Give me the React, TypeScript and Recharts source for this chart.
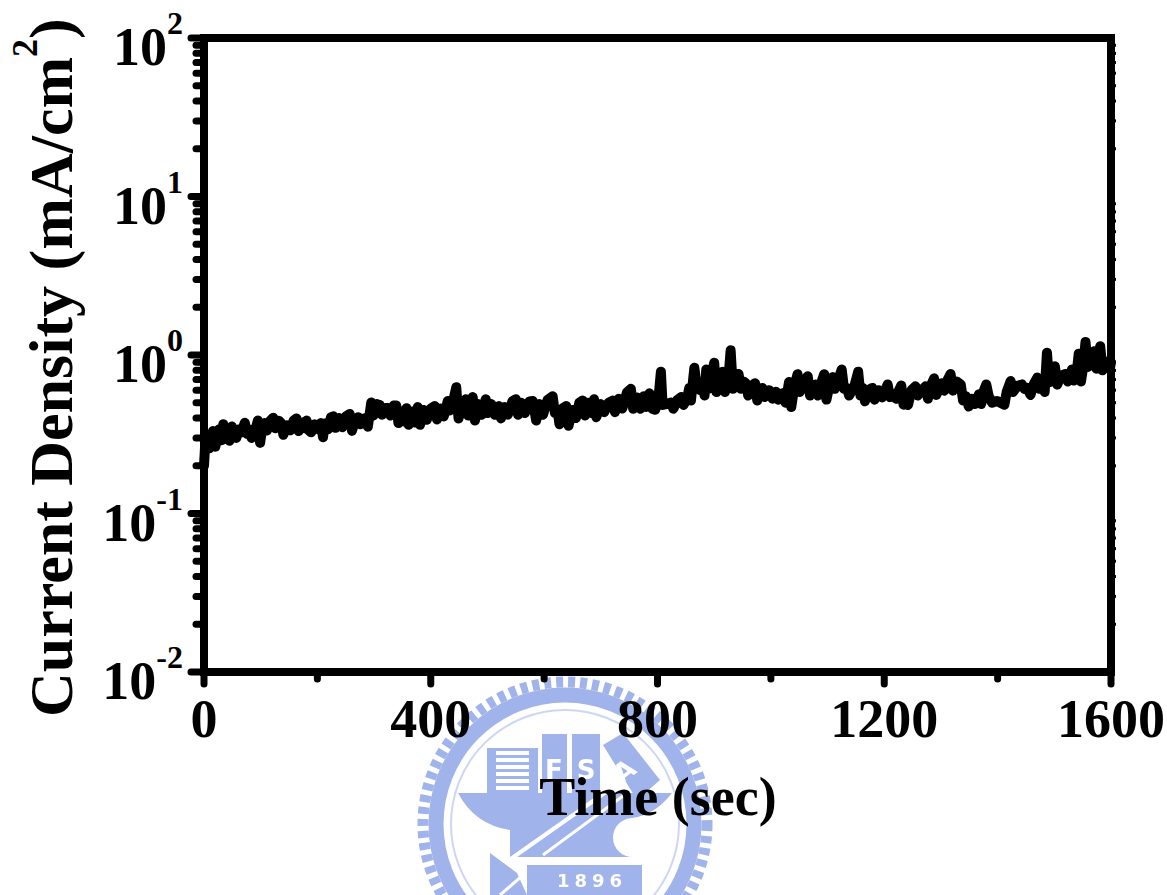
import { LineChart, Line, XAxis, YAxis } from 'recharts'

// [time in sec, current density in mA/cm2]
const readings0to400 = [
  [0, 0.2], [2, 0.27], [6, 0.315], [9, 0.258], [16, 0.331], [20, 0.264], [27, 0.34], [31, 0.29], [34, 0.366], [38, 0.3],
  [42, 0.34], [45, 0.288], [49, 0.354], [53, 0.31], [57, 0.3], [62, 0.34], [66, 0.325], [72, 0.374], [76, 0.318],
  [80, 0.339], [84, 0.3], [90, 0.33], [95, 0.386], [99, 0.279], [103, 0.35], [107, 0.372], [111, 0.334], [117, 0.385],
  [122, 0.402], [126, 0.345], [132, 0.385], [136, 0.372], [140, 0.314], [146, 0.36], [152, 0.335], [158, 0.385],
  [163, 0.398], [167, 0.331], [173, 0.375], [177, 0.345], [181, 0.386], [185, 0.334], [189, 0.325], [195, 0.365],
  [201, 0.34], [206, 0.372], [210, 0.303], [213, 0.37], [219, 0.34], [224, 0.405], [228, 0.411], [232, 0.347],
  [238, 0.4], [244, 0.35], [250, 0.41], [257, 0.425], [261, 0.332], [267, 0.39], [272, 0.405], [276, 0.366], [281, 0.395],
  [286, 0.402], [289, 0.353], [292, 0.42], [295, 0.501], [299, 0.415], [305, 0.49], [310, 0.483], [314, 0.42], [320, 0.463],
  [325, 0.463], [329, 0.415], [335, 0.48], [339, 0.481], [343, 0.372], [349, 0.44], [353, 0.38], [357, 0.461], [361, 0.363],
  [367, 0.44], [372, 0.375], [377, 0.469], [381, 0.363], [387, 0.45], [393, 0.39],
]
const readings400to800 = [
  [400, 0.46], [407, 0.476], [411, 0.392], [417, 0.46], [423, 0.41], [430, 0.513], [434, 0.447], [440, 0.52], [445, 0.626],
  [449, 0.398], [455, 0.5], [462, 0.526], [466, 0.415], [470, 0.5], [474, 0.543], [478, 0.386], [484, 0.49], [490, 0.42],
  [497, 0.526], [501, 0.43], [507, 0.49], [513, 0.42], [520, 0.476], [524, 0.398], [530, 0.47], [536, 0.42], [544, 0.51],
  [550, 0.526], [554, 0.42], [560, 0.5], [566, 0.43], [574, 0.51], [580, 0.513], [586, 0.386], [592, 0.49], [598, 0.42],
  [606, 0.52], [615, 0.55], [619, 0.43], [624, 0.44], [627, 0.366], [632, 0.46], [639, 0.476], [643, 0.358], [650, 0.45],
  [656, 0.4], [662, 0.5], [668, 0.516], [672, 0.415], [678, 0.5], [684, 0.43], [688, 0.526], [692, 0.405], [700, 0.49],
  [706, 0.436], [714, 0.5], [721, 0.516], [725, 0.436], [732, 0.53], [738, 0.46], [746, 0.58], [753, 0.612], [757, 0.458],
  [764, 0.54], [770, 0.458], [776, 0.55], [780, 0.47], [786, 0.573], [791, 0.458], [796, 0.451],
]
const readings800to1200 = [
  [802, 0.55], [806, 0.785], [809, 0.484], [815, 0.49], [824, 0.501], [828, 0.458], [835, 0.52], [842, 0.543], [846, 0.484],
  [852, 0.53], [856, 0.62], [859, 0.516], [865, 0.83], [869, 0.643], [875, 0.6], [880, 0.652], [883, 0.555], [886, 0.81],
  [890, 0.612], [895, 0.75], [900, 0.893], [904, 0.584], [910, 0.72], [915, 0.785], [919, 0.584], [925, 0.7], [929, 1.07],
  [933, 0.612], [938, 0.72], [943, 0.76], [947, 0.612], [952, 0.68], [956, 0.664], [960, 0.555], [966, 0.64], [972, 0.664],
  [976, 0.516], [981, 0.6], [985, 0.62], [989, 0.543], [997, 0.6], [1003, 0.53], [1009, 0.586], [1013, 0.523], [1021, 0.574],
  [1026, 0.5], [1032, 0.675], [1036, 0.469], [1041, 0.62], [1047, 0.757], [1051, 0.584], [1058, 0.68], [1065, 0.735],
  [1069, 0.555], [1075, 0.64], [1079, 0.652], [1083, 0.555], [1089, 0.67], [1094, 0.757], [1098, 0.523], [1104, 0.66],
  [1109, 0.725], [1113, 0.612], [1120, 0.72], [1125, 0.81], [1129, 0.612], [1134, 0.62], [1138, 0.555], [1147, 0.63],
  [1154, 0.785], [1158, 0.555], [1162, 0.62], [1166, 0.51], [1172, 0.6], [1179, 0.62], [1183, 0.523], [1190, 0.6], [1196, 0.54],
]
const readings1200to1600 = [
  [1206, 0.652], [1210, 0.543], [1217, 0.565], [1221, 0.53], [1226, 0.6], [1230, 0.642], [1234, 0.486], [1238, 0.535],
  [1242, 0.484], [1248, 0.6], [1255, 0.634], [1259, 0.555], [1266, 0.6], [1273, 0.634], [1277, 0.53], [1283, 0.65],
  [1288, 0.712], [1292, 0.56], [1297, 0.63], [1302, 0.664], [1306, 0.596], [1312, 0.7], [1317, 0.76], [1321, 0.596],
  [1328, 0.68], [1335, 0.652], [1339, 0.516], [1344, 0.55], [1349, 0.473], [1354, 0.53], [1360, 0.49], [1367, 0.565],
  [1371, 0.49], [1376, 0.6], [1380, 0.652], [1384, 0.555], [1390, 0.5], [1399, 0.513], [1405, 0.5], [1412, 0.486],
  [1416, 0.586], [1423, 0.685], [1427, 0.584], [1435, 0.64], [1443, 0.652], [1447, 0.612], [1452, 0.62], [1458, 0.56],
  [1464, 0.66], [1470, 0.72], [1474, 0.612], [1480, 0.675], [1483, 0.584], [1487, 1.035], [1491, 0.672], [1496, 0.75],
  [1501, 0.85], [1505, 0.65], [1512, 0.74], [1520, 0.76], [1524, 0.68], [1531, 0.81], [1535, 0.69], [1540, 0.8],
  [1543, 1.02], [1547, 0.68], [1551, 0.84], [1555, 1.21], [1559, 0.84], [1565, 1.0], [1570, 1.056], [1574, 0.82],
  [1578, 0.95], [1581, 1.135], [1585, 0.8], [1590, 0.9], [1596, 0.913], [1598, 0.82], [1600, 0.9],
]

const chartData = [...readings0to400, ...readings400to800, ...readings800to1200, ...readings1200to1600].map(([t, j]) => ({ t, j }))

const majorX = [0, 400, 800, 1200, 1600]
const minorX = [200, 600, 1000, 1400]
const majorY = [0.01, 0.1, 1, 10, 100]
const minorY = [
  0.02, 0.03, 0.04, 0.05, 0.06, 0.07, 0.08, 0.09, 0.2, 0.3, 0.4, 0.5, 0.6, 0.7, 0.8, 0.9, 2, 3, 4, 5, 6, 7, 8, 9, 20, 30,
  40, 50, 60, 70, 80, 90,
]

const FONT = '"Liberation Serif", serif'
const axisLine = { stroke: '#000', strokeWidth: 8, strokeLinecap: 'square' as const }

function exponent(v: number) {
  return String(Math.round(Math.log10(v)))
}

function LeftTick({ x, y, payload }: any) {
  const major = majorY.includes(payload.value)
  return (
    <g>
      <line x1={x} x2={x - (major ? 13 : 8)} y1={y} y2={y} stroke="#000" strokeWidth={7} strokeLinecap="round" />
      {major && (
        <text x={x - 21} y={y + 27} textAnchor="end" fontFamily={FONT} fontWeight="bold" fontSize={54}>
          10
          <tspan fontSize={32} dy={-31}>
            {exponent(payload.value)}
          </tspan>
        </text>
      )}
    </g>
  )
}

function BottomTick({ x, y, payload }: any) {
  const major = majorX.includes(payload.value)
  return (
    <g>
      <line x1={x} x2={x} y1={y} y2={y + (major ? 12 : 7)} stroke="#000" strokeWidth={7} strokeLinecap="round" />
      {major && (
        <text x={x} y={737} textAnchor="middle" fontFamily={FONT} fontWeight="bold" fontSize={54}>
          {payload.value}
        </text>
      )}
    </g>
  )
}

function RightTick({ x, y }: any) {
  return <line x1={x} x2={x + 5} y1={y} y2={y} stroke="#000" strokeWidth={3} />
}

function YTitle() {
  return (
    <text transform="translate(72,717) rotate(-90)" fontFamily={FONT} fontWeight="bold" fontSize={62}>
      Current Density (mA/cm
      <tspan fontSize={36} dy={-35}>
        2
      </tspan>
      <tspan dy={35}>)</tspan>
    </text>
  )
}

function XTitle() {
  return (
    <text x={658} y={815} textAnchor="middle" fontFamily={FONT} fontWeight="bold" fontSize={54}>
      Time (sec)
    </text>
  )
}

// school seal behind the x axis title
function Watermark() {
  const blue = '#a0b3ea'
  return (
    <svg width={1167} height={895} style={{ position: 'absolute', left: 0, top: 0 }}>
      <defs>
        <filter id="soft">
          <feGaussianBlur stdDeviation={0.7} />
        </filter>
      </defs>
      <g filter="url(#soft)">
        <circle cx={565} cy={824} r={142} fill="none" stroke={blue} strokeWidth={11} strokeDasharray="7 5" />
        <circle cx={565} cy={824} r={129} fill="none" stroke={blue} strokeWidth={15} />
        <circle cx={565} cy={824} r={114} fill="none" stroke="#cdd7f3" strokeWidth={2} />
        <rect x={487} y={748} width={51} height={46} fill={blue} />
        {[751, 758, 765, 772, 779, 786].map((sy) => (
          <rect key={sy} x={496} y={sy} width={33} height={4} fill="#fff" />
        ))}
        <rect x={542} y={734} width={25} height={60} fill={blue} />
        <rect x={572} y={734} width={28} height={60} fill={blue} />
        <polygon points="603,745 623,733 660,780 637,800" fill={blue} />
        <path
          d="M458,793 L672,793 Q655,815 632,818 A17,17 0 0 0 633,857 L510,857 L510,830 Q475,825 458,793 Z"
          fill={blue}
        />
        <path d="M505,863 L613,787" stroke="#fff" strokeWidth={4} />
        <path d="M543,855 L627,793" stroke="#fff" strokeWidth={3} />
        <polygon points="490,853 517,873 527,895 490,895" fill={blue} />
        <path d="M500,895 L522,876" stroke="#fff" strokeWidth={3} />
        <rect x={527} y={865} width={115} height={30} fill={blue} />
        <g fill="#fff" fontFamily='"DejaVu Sans", sans-serif' fontWeight="bold">
          <text x={554} y={779} textAnchor="middle" fontSize={26}>
            F
          </text>
          <text x={586} y={779} textAnchor="middle" fontSize={26}>
            S
          </text>
          <text x={0} y={0} textAnchor="middle" fontSize={26} transform="translate(630,778) rotate(-38)">
            A
          </text>
          <text x={592} y={887} textAnchor="middle" fontSize={18} letterSpacing={5}>
            1896
          </text>
        </g>
      </g>
    </svg>
  )
}

export default function App() {
  return (
    <div style={{ position: 'absolute', left: 0, top: 0, width: 1167, height: 895, background: '#fff', overflow: 'hidden' }}>
      <Watermark />
      <div style={{ position: 'absolute', left: 0, top: 0 }}>
        <LineChart width={1167} height={895} data={chartData} margin={{ top: 37, right: 55, bottom: 0, left: 0 }}>
          <XAxis
            dataKey="t"
            type="number"
            domain={[0, 1600]}
            ticks={[...majorX, ...minorX]}
            interval={0}
            height={223}
            axisLine={axisLine}
            tickLine={false}
            tickSize={0}
            tickMargin={0}
            tick={<BottomTick />}
            label={<XTitle />}
          />
          <XAxis
            xAxisId="top"
            orientation="top"
            type="number"
            domain={[0, 1600]}
            ticks={majorX}
            height={1}
            axisLine={axisLine}
            tick={false}
            tickLine={false}
          />
          <YAxis
            dataKey="j"
            scale="log"
            domain={[0.01, 100]}
            allowDataOverflow
            ticks={[...majorY, ...minorY]}
            interval={0}
            width={204}
            axisLine={axisLine}
            tickLine={false}
            tickSize={0}
            tickMargin={0}
            tick={<LeftTick />}
            label={<YTitle />}
          />
          <YAxis
            yAxisId="right"
            orientation="right"
            scale="log"
            domain={[0.01, 100]}
            allowDataOverflow
            ticks={minorY}
            interval={0}
            width={1}
            axisLine={axisLine}
            tickLine={false}
            tickSize={0}
            tickMargin={0}
            tick={<RightTick />}
          />
          <Line
            dataKey="j"
            type="linear"
            stroke="#000"
            strokeWidth={10}
            strokeLinecap="round"
            strokeLinejoin="round"
            dot={false}
            isAnimationActive={false}
          />
        </LineChart>
      </div>
    </div>
  )
}
